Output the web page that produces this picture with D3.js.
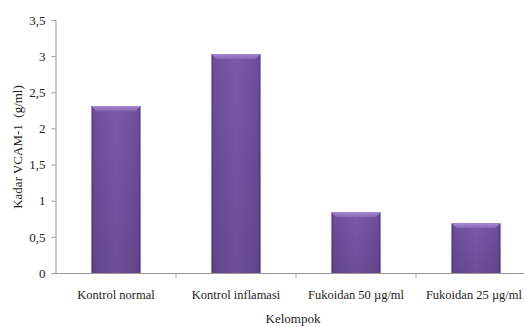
<!DOCTYPE html>
<html>
<head>
<meta charset="utf-8">
<script src="https://cdn.jsdelivr.net/npm/d3@7"></script>
<style>
  html, body { margin: 0; padding: 0; background: #fff; }
  svg { display: block; }
</style>
</head>
<body>
<svg id="chart" width="524" height="327"></svg>
<script>
const categories = ["Kontrol normal", "Kontrol inflamasi", "Fukoidan 50 \u00b5g/ml", "Fukoidan 25 \u00b5g/ml"];
const values = [2.31, 3.03, 0.84, 0.69];
const yTicks = [0, 0.5, 1, 1.5, 2, 2.5, 3, 3.5];
const yTickLabels = ["0", "0,5", "1", "1,5", "2", "2,5", "3", "3,5"];

const FONT = "'Liberation Serif', 'Times New Roman', Times, serif";
const svg = d3.select("#chart");
const W = 524, H = 327;
const plot = { left: 56, right: 536, top: 20, bottom: 273 };

const x = d3.scaleBand().domain(categories).range([plot.left, plot.right]).paddingInner(0.59).paddingOuter(0.295);
const y = d3.scaleLinear().domain([0, 3.5]).range([plot.bottom, plot.top]);

// Bevelled purple fill: horizontal body shading plus a lighter top cap
const defs = svg.append("defs");
const body = defs.append("linearGradient").attr("id", "barBody").attr("x1", 0).attr("x2", 1).attr("y1", 0).attr("y2", 0);
[[0, "#5b3f86"], [0.07, "#6f4f9d"], [0.5, "#7b59aa"], [0.93, "#6f4f9d"], [1, "#5b3f86"]]
  .forEach(([o, c]) => body.append("stop").attr("offset", o).attr("stop-color", c));
const cap = defs.append("linearGradient").attr("id", "barCap").attr("x1", 0).attr("x2", 0).attr("y1", 0).attr("y2", 1);
[[0, "#a78ad3"], [1, "#8567b6"]].forEach(([o, c]) => cap.append("stop").attr("offset", o).attr("stop-color", c));
const shade = defs.append("linearGradient").attr("id", "barShade").attr("x1", 0).attr("x2", 0).attr("y1", 0).attr("y2", 1);
[[0, "#000", 0], [1, "#000", 0.12]].forEach(([o, c, a]) => shade.append("stop").attr("offset", o).attr("stop-color", c).attr("stop-opacity", a));

const bars = svg.append("g").selectAll("g").data(categories).join("g");
bars.append("rect")
  .attr("x", d => x(d))
  .attr("y", (d, i) => y(values[i]))
  .attr("width", x.bandwidth())
  .attr("height", (d, i) => plot.bottom - y(values[i]))
  .attr("fill", "url(#barBody)");
bars.append("rect")
  .attr("x", d => x(d))
  .attr("y", (d, i) => y(values[i]))
  .attr("width", x.bandwidth())
  .attr("height", (d, i) => plot.bottom - y(values[i]))
  .attr("fill", "url(#barShade)");
// top bevel as a trapezoid
bars.append("path")
  .attr("d", (d, i) => {
    const x0 = x(d), x1 = x0 + x.bandwidth(), t = y(values[i]), b = 5;
    return `M${x0},${t} L${x1},${t} L${x1 - b},${t + b} L${x0 + b},${t + b} Z`;
  })
  .attr("fill", "url(#barCap)");

// Y axis
const yAxis = svg.append("g").attr("transform", `translate(${plot.left - 0.5},0)`)
  .call(d3.axisLeft(y).tickValues(yTicks).tickSize(4).tickPadding(6)
    .tickFormat((d, i) => yTickLabels[i]));
yAxis.attr("font-family", FONT).attr("font-size", 13);
yAxis.select(".domain").attr("stroke", "#999");
yAxis.selectAll(".tick line").attr("stroke", "#999");
yAxis.selectAll("text").attr("fill", "#222");

// X axis with ticks on category boundaries
const xAxisG = svg.append("g").attr("transform", `translate(0,${plot.bottom + 0.5})`)
  .attr("font-family", FONT).attr("font-size", 12.5);
xAxisG.append("line").attr("x1", plot.left - 4).attr("x2", W).attr("stroke", "#999");
const step = x.step();
const boundaries = categories.slice(1).map(c => x(c) - (step - x.bandwidth()) / 2);
xAxisG.selectAll("line.tick").data(boundaries).join("line").attr("class", "tick")
  .attr("x1", d => d).attr("x2", d => d).attr("y1", 0).attr("y2", 4).attr("stroke", "#999");
const labels = xAxisG.selectAll("text").data(categories).join("text")
  .attr("x", d => x(d) + x.bandwidth() / 2)
  .attr("y", 25)
  .attr("text-anchor", "middle")
  .attr("fill", "#222")
  .text(d => d);
// keep the last label inside the right edge
labels.each(function () {
  const bb = this.getBBox();
  if (bb.x + bb.width > W - 2) {
    d3.select(this).attr("text-anchor", "end").attr("x", W - 2);
  }
});

// Axis titles
svg.append("text").attr("x", 293).attr("y", 323).attr("text-anchor", "middle")
  .attr("font-family", FONT).attr("font-size", 13).attr("fill", "#222").text("Kelompok");
svg.append("text").attr("transform", "translate(22,147) rotate(-90)").attr("text-anchor", "middle")
  .attr("font-family", FONT).attr("font-size", 13).attr("fill", "#222")
  .style("white-space", "pre").text("Kadar VCAM-1  (g/ml)");
</script>
</body>
</html>
